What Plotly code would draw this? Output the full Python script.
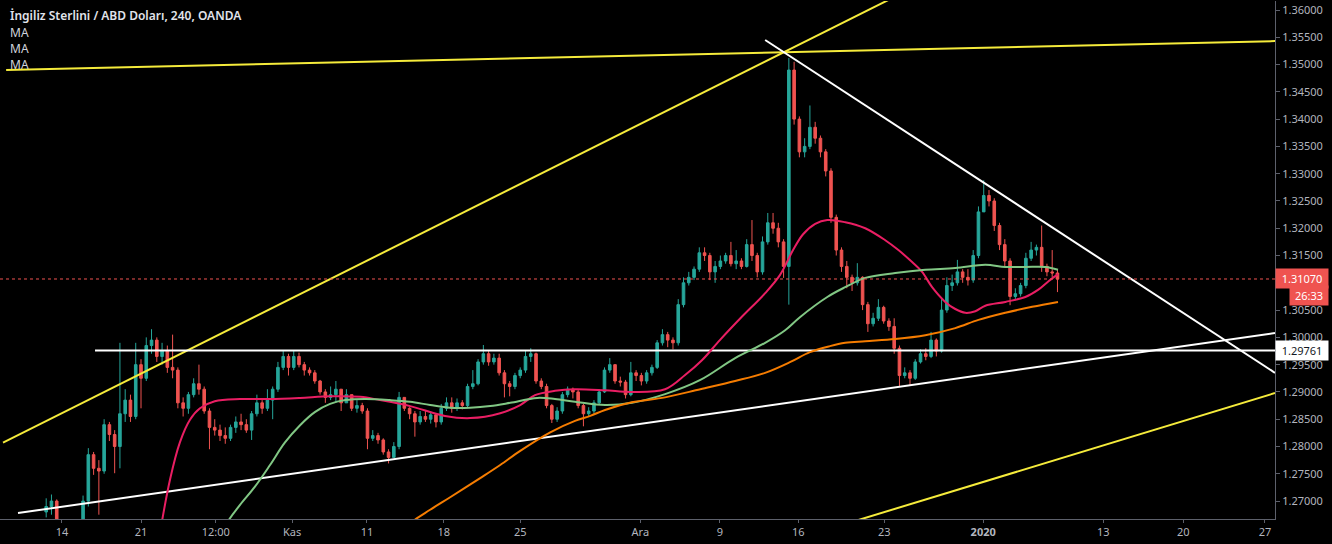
import plotly.graph_objects as go

# ---------------- data ----------------
title_text = "İngiliz Sterlini / ABD Doları, 240, OANDA"
ma_labels = ["MA", "MA", "MA"]

first_open = 1.2680
closes = [
1.2690,1.2700,1.2660,1.2615,1.2600,1.2625,1.2650,1.2700,1.2785,1.2760,
1.2755,1.2840,1.2822,1.2800,1.2860,1.2885,1.2855,1.2950,1.2925,1.2985,
1.2995,1.2965,1.2975,1.2945,1.2940,1.2880,1.2870,1.2895,1.2915,1.2905,
1.2865,1.2835,1.2830,1.2820,1.2815,1.2835,1.2845,1.2840,1.2830,1.2860,
1.2880,1.2870,1.2885,1.2905,1.2945,1.2965,1.2945,1.2965,1.2950,1.2940,
1.2935,1.2920,1.2900,1.2890,1.2895,1.2905,1.2880,1.2895,1.2870,1.2875,
1.2865,1.2815,1.2820,1.2812,1.2790,1.2780,1.2800,1.2890,1.2870,1.2860,
1.2845,1.2855,1.2850,1.2858,1.2845,1.2870,1.2880,1.2870,1.2880,1.2875,
1.2910,1.2915,1.2955,1.2970,1.2955,1.2962,1.2935,1.2915,1.2910,1.2930,
1.2940,1.2965,1.2970,1.2920,1.2910,1.2875,1.2850,1.2865,1.2895,1.2905,
1.2900,1.2875,1.2860,1.2865,1.2880,1.2900,1.2940,1.2950,1.2920,1.2918,
1.2895,1.2935,1.2930,1.2920,1.2935,1.2945,1.2990,1.3005,1.2995,1.2990,
1.3060,1.3100,1.3110,1.3125,1.3155,1.3150,1.3120,1.3130,1.3140,1.3150,
1.3135,1.3140,1.3130,1.3170,1.3150,1.3120,1.3175,1.3210,1.3200,1.3175,
1.3130,1.3490,1.3400,1.3340,1.3350,1.3385,1.3365,1.3340,1.3305,1.3220,
1.3160,1.3130,1.3110,1.3100,1.3110,1.3060,1.3025,1.3035,1.3055,1.3030,
1.3020,1.2980,1.2930,1.2935,1.2925,1.2955,1.2970,1.2965,1.2995,1.2975,
1.3050,1.3095,1.3100,1.3120,1.3110,1.3105,1.3150,1.3230,1.3260,1.3250,
1.3205,1.3170,1.3140,1.3075,1.3080,1.3095,1.3145,1.3160,1.3165,1.3130,
1.3120,1.3118,1.3107]
highs = [
1.2705,1.2712,1.2703,1.2665,1.2630,1.2640,1.2662,1.2710,1.2797,1.2790,
1.2775,1.2850,1.2845,1.2830,1.2990,1.2905,1.2895,1.2990,1.2960,1.3000,
1.3015,1.3000,1.2990,1.2985,1.3005,1.2945,1.2890,1.2900,1.2925,1.2950,
1.2910,1.2870,1.2850,1.2840,1.2835,1.2840,1.2855,1.2860,1.2850,1.2865,
1.2895,1.2885,1.2905,1.2910,1.2955,1.2976,1.2970,1.2975,1.2972,1.2955,
1.2945,1.2940,1.2922,1.2905,1.2910,1.2920,1.2905,1.2905,1.2895,1.2885,
1.2880,1.2870,1.2830,1.2825,1.2815,1.2795,1.2808,1.2900,1.2890,1.2872,
1.2865,1.2865,1.2865,1.2865,1.2860,1.2878,1.2890,1.2890,1.2888,1.2885,
1.2915,1.2940,1.2960,1.2986,1.2975,1.2970,1.2970,1.2940,1.2920,1.2935,
1.2945,1.2975,1.2980,1.2972,1.2925,1.2915,1.2878,1.2872,1.2900,1.2910,
1.2908,1.2905,1.2878,1.2872,1.2885,1.2905,1.2945,1.2962,1.2950,1.2928,
1.2922,1.2955,1.2940,1.2935,1.2940,1.2950,1.2995,1.3015,1.3010,1.3000,
1.3070,1.3110,1.3120,1.3130,1.3165,1.3165,1.3155,1.3140,1.3150,1.3155,
1.3175,1.3160,1.3145,1.3180,1.3215,1.3155,1.3185,1.3228,1.3228,1.3210,
1.3180,1.3512,1.3505,1.3405,1.3365,1.3425,1.3395,1.3370,1.3345,1.3310,
1.3225,1.3165,1.3140,1.3115,1.3136,1.3112,1.3065,1.3045,1.3070,1.3058,
1.3035,1.3035,1.2985,1.2945,1.2940,1.2960,1.2978,1.2980,1.3010,1.2998,
1.3070,1.3110,1.3115,1.3142,1.3125,1.3125,1.3160,1.3240,1.3288,1.3270,
1.3255,1.3210,1.3180,1.3145,1.3090,1.3100,1.3155,1.3175,1.3170,1.3205,
1.3135,1.3160,1.3125]
lows = [
1.2670,1.2675,1.2650,1.2600,1.2585,1.2590,1.2615,1.2640,1.2690,1.2748,
1.2675,1.2750,1.2810,1.2751,1.2760,1.2845,1.2845,1.2850,1.2870,1.2920,
1.2970,1.2955,1.2950,1.2935,1.2925,1.2870,1.2855,1.2860,1.2890,1.2895,
1.2860,1.2795,1.2820,1.2810,1.2805,1.2810,1.2825,1.2830,1.2825,1.2812,
1.2855,1.2860,1.2865,1.2850,1.2900,1.2940,1.2930,1.2940,1.2945,1.2930,
1.2930,1.2915,1.2895,1.2880,1.2885,1.2880,1.2865,1.2880,1.2865,1.2862,
1.2860,1.2795,1.2810,1.2805,1.2785,1.2769,1.2785,1.2795,1.2865,1.2850,
1.2818,1.2840,1.2845,1.2842,1.2835,1.2840,1.2865,1.2862,1.2865,1.2868,
1.2872,1.2905,1.2912,1.2950,1.2948,1.2950,1.2930,1.2890,1.2892,1.2905,
1.2925,1.2935,1.2955,1.2915,1.2905,1.2870,1.2843,1.2845,1.2860,1.2890,
1.2888,1.2870,1.2837,1.2855,1.2860,1.2878,1.2898,1.2935,1.2915,1.2910,
1.2888,1.2892,1.2920,1.2912,1.2915,1.2930,1.2942,1.2985,1.2982,1.2978,
1.2985,1.3055,1.3095,1.3105,1.3120,1.3140,1.3105,1.3100,1.3125,1.3135,
1.3130,1.3125,1.3125,1.3128,1.3140,1.3110,1.3115,1.3170,1.3190,1.3165,
1.3109,1.3060,1.3390,1.3330,1.3330,1.3345,1.3355,1.3330,1.3295,1.3210,
1.3150,1.3120,1.3090,1.3085,1.3095,1.3050,1.3010,1.3020,1.3030,1.3025,
1.3012,1.2970,1.2909,1.2925,1.2912,1.2922,1.2952,1.2958,1.2962,1.2965,
1.2972,1.3045,1.3085,1.3095,1.3100,1.3095,1.3100,1.3145,1.3230,1.3240,
1.3195,1.3160,1.3130,1.3059,1.3068,1.3075,1.3090,1.3140,1.3150,1.3120,
1.3112,1.3110,1.3083]

# moving averages (bar position, price)
ma_red_x = [21.2,23.5,25.4,27.3,29.2,32.0,36.8,42.5,48.2,53.9,59.6,63.4,69.1,75.7,80.5,86.2,90.0,92.8,96.6,
            100.4,106.1,111.2,117.5,121.3,124.5,127.9,131.8,136.5,139.3,141.8,143.7,146.0,148.3,151.7,155.5,
            159.3,161.8,164.4,166.3,168.2,170.7,172.6,174.5,176.4,178.3,182.1,185.9,188.3,190.3,192.1]
ma_red_y = [1.2619,1.2739,1.2808,1.2849,1.2870,1.2883,1.2887,1.2887,1.2889,1.2892,1.2891,1.2885,1.2874,1.2856,
            1.2852,1.2861,1.2876,1.2894,1.2902,1.2905,1.2903,1.2900,1.2905,1.2931,1.2958,1.2995,1.3035,1.3081,
            1.3114,1.3160,1.3189,1.3208,1.3215,1.3211,1.3200,1.3178,1.3160,1.3138,1.3120,1.3092,1.3065,1.3052,
            1.3045,1.3048,1.3058,1.3065,1.3074,1.3087,1.3103,1.3116]
ma_green_x = [33.4,34.5,36.8,39.6,42.5,45.3,48.2,51.0,53.9,56.8,60.5,65.3,69.1,72.9,76.7,80.5,84.3,88.1,93.2,
              96.6,100.4,106.1,111.2,117.5,124.2,130.8,136.5,140.3,143.1,148.3,151.7,155.5,161.2,166.9,172.6,
              178.3,182.1,185.9,189.7,192.1]
ma_green_y = [1.2628,1.2662,1.2693,1.2726,1.2766,1.2807,1.2839,1.2863,1.2878,1.2885,1.2887,1.2885,1.2882,1.2876,
              1.2871,1.2871,1.2874,1.2880,1.2889,1.2887,1.2882,1.2876,1.2880,1.2896,1.2922,1.2962,1.2990,1.3013,
              1.3037,1.3074,1.3092,1.3109,1.3118,1.3124,1.3127,1.3133,1.3129,1.3129,1.3129,1.3124]
ma_orange_x = [68.1,69.5,72.9,76.7,82.4,86.2,90.0,95.7,100.4,103.3,106.1,111.2,117.5,124.2,130.8,136.5,141.3,
               145.0,148.8,151.7,155.5,161.2,166.9,172.6,177.0,182.1,187.2,192.1]
ma_orange_y = [1.2647,1.2662,1.2684,1.2707,1.2742,1.2766,1.2792,1.2826,1.2847,1.2856,1.2867,1.2881,1.2890,1.2905,
               1.2920,1.2935,1.2955,1.2973,1.2984,1.2990,1.2993,1.2997,1.3004,1.3017,1.3032,1.3045,1.3056,1.3065]

# drawn trend lines (bar position, price)
yellow_top_x, yellow_top_y = [-7.6, 233.3], [1.3490, 1.3543]
yellow_rise_x, yellow_rise_y = [-8.2, 162.1], [1.2807, 1.3629]
yellow_low_x, yellow_low_y = [150.7, 233.3], [1.2655, 1.2898]
white_down_x, white_down_y = [136.5, 233.3], [1.3545, 1.2935]
white_flat_x, white_flat_y = [9.27, 233.3], [1.29761, 1.29761]
white_up_x, white_up_y = [-5.35, 233.3], [1.2678, 1.3008]

last_price = 1.31070
last_price_text = "1.31070"
countdown_text = "26:33"
level_text = "1.29761"
level_price = 1.29761

# price-scale labels (1.31000 is hidden behind the last-price tag)
y_tick_vals = [1.270, 1.275, 1.280, 1.285, 1.290, 1.295, 1.300, 1.305, 1.315, 1.320, 1.325,
               1.330, 1.335, 1.340, 1.345, 1.350, 1.355, 1.360]

tick_pos = [3.0, 18.0, 32.2, 46.7, 60.9, 75.5, 90.0, 112.8, 127.9, 142.8, 159.1, 177.9, 200.7, 215.9, 231.4]
tick_text = ["14", "21", "12:00", "Kas", "11", "18", "25", "Ara", "9", "16", "23", "<b>2020</b>", "13", "20", "27"]

x_range = [-8.77, 233.3]
y_range = [1.26671, 1.36165]

# ---------------- figure ----------------
opens = [first_open] + closes[:-1]
highs = [max(h, o, c) for h, o, c in zip(highs, opens, closes)]
lows = [min(l, o, c) for l, o, c in zip(lows, opens, closes)]
bars = list(range(len(closes)))

UP, DOWN = "#26a69a", "#ef5350"
TXT = "#b2b5be"
FONT = "Noto Sans"

fig = go.Figure()

for xs, ys, col in [(yellow_top_x, yellow_top_y, "#f5eb3b"), (yellow_rise_x, yellow_rise_y, "#f5eb3b"),
                    (yellow_low_x, yellow_low_y, "#f5eb3b"), (white_down_x, white_down_y, "#ffffff"),
                    (white_flat_x, white_flat_y, "#ffffff"), (white_up_x, white_up_y, "#ffffff")]:
    fig.add_trace(go.Scatter(x=xs, y=ys, mode="lines", line=dict(color=col, width=2), showlegend=False,
                             hoverinfo="skip"))

fig.add_trace(go.Candlestick(x=bars, open=opens, high=highs, low=lows, close=closes,
                             increasing=dict(line=dict(color=UP, width=1), fillcolor=UP),
                             decreasing=dict(line=dict(color=DOWN, width=1), fillcolor=DOWN),
                             showlegend=False))

for xs, ys, col in [(ma_red_x, ma_red_y, "#e91e63"), (ma_green_x, ma_green_y, "#81c784"),
                    (ma_orange_x, ma_orange_y, "#f57c00")]:
    fig.add_trace(go.Scatter(x=xs, y=ys, mode="lines", line=dict(color=col, width=2, shape="spline"),
                             showlegend=False, hoverinfo="skip"))

fig.add_shape(type="line", xref="paper", x0=0, x1=1, yref="y", y0=last_price, y1=last_price,
              line=dict(color=DOWN, width=1, dash="dot"))

ann = []
ann.append(dict(text=title_text, xref="paper", yref="paper", x=0, y=1, xanchor="left", yanchor="top",
                xshift=8, yshift=-4, showarrow=False,
                font=dict(family=FONT, size=12, color="#e0e3eb", weight=600)))
for i, lab in enumerate(ma_labels):
    ann.append(dict(text=lab, xref="paper", yref="paper", x=0, y=1, xanchor="left", yanchor="top",
                    xshift=8, yshift=-21 - 16 * i, showarrow=False,
                    font=dict(family=FONT, size=12, color="#d1d4dc")))
ann.append(dict(text=last_price_text, xref="paper", yref="y", x=1, y=last_price, xanchor="left",
                yanchor="middle", showarrow=False, bgcolor=DOWN, borderpad=2, width=48,
                font=dict(family=FONT, size=11, color="#ffffff")))
ann.append(dict(text=countdown_text, xref="paper", yref="y", x=1, y=last_price, xanchor="right",
                yanchor="middle", xshift=54, yshift=-17, showarrow=False, bgcolor=DOWN, borderpad=2, width=34,
                font=dict(family=FONT, size=11, color="#ffffff")))
ann.append(dict(text=level_text, xref="paper", yref="y", x=1, y=level_price, xanchor="left",
                yanchor="middle", showarrow=False, bgcolor="#ffffff", borderpad=2, width=48,
                font=dict(family=FONT, size=11, color="#131722")))

fig.update_layout(
    width=1332, height=544, margin=dict(l=0, r=57, t=1, b=25),
    paper_bgcolor="#000000", plot_bgcolor="#000000",
    font=dict(family=FONT, size=11, color=TXT),
    annotations=ann, showlegend=False,
    xaxis=dict(range=x_range, showgrid=False, zeroline=False, rangeslider=dict(visible=False),
               tickmode="array", tickvals=tick_pos, ticktext=tick_text, ticks="outside", ticklen=3,
               tickcolor="#5d606b", showline=True, linecolor="#5d606b", linewidth=1,
               tickfont=dict(family=FONT, size=11, color=TXT), fixedrange=True),
    yaxis=dict(range=y_range, side="right", showgrid=False, zeroline=False, tickmode="array",
               tickvals=y_tick_vals, tickformat=".5f", ticks="outside", ticklen=4, tickcolor="#5d606b",
               showline=True, linecolor="#5d606b", linewidth=1,
               tickfont=dict(family=FONT, size=11, color=TXT), fixedrange=True),
)

fig.write_html("out.html", config={"displayModeBar": False})
